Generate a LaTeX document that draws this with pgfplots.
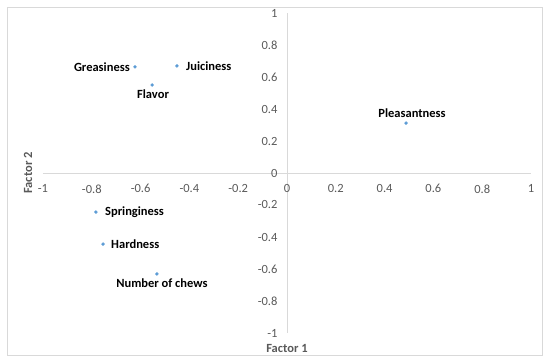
\documentclass[border=0pt]{standalone}
\usepackage{fontspec}
\setmainfont{Carlito}
\usepackage{pgfplots}
\pgfplotsset{compat=1.18}
\definecolor{axgray}{HTML}{D9D9D9}
\definecolor{txtgray}{HTML}{595959}
\definecolor{ptblue}{HTML}{5B9BD5}
\definecolor{framegray}{HTML}{D9D9D9}
\pgfplotsset{
  pt/.style n args={3}{only marks, mark=*, mark size=1.5pt, ptblue,
    point meta=explicit symbolic, nodes near coords,
    every node near coord/.append style={anchor=#1, xshift=#2, yshift=#3,
      font=\fontsize{12.5}{14}\selectfont\bfseries, text=black, inner sep=2pt}},
}
\begin{document}
\begin{tikzpicture}[x=1pt,y=1pt]
\useasboundingbox (0,0) rectangle (550,363);
\draw[framegray, line width=0.8pt] (7,8) rectangle (542,356);
\begin{axis}[
  at={(43pt,30pt)}, anchor=south west,
  scale only axis, width=488pt, height=320pt,
  xmin=-1, xmax=1, ymin=-1, ymax=1,
  axis lines=middle,
  axis line style={axgray, line width=0.8pt, -},
  xtick={-1,-0.8,-0.6,-0.4,-0.2,0,0.2,0.4,0.6,0.8,1},
  ytick={-1,-0.8,-0.6,-0.4,-0.2,0,0.2,0.4,0.6,0.8,1},
  major tick length=0pt,
  hide obscured x ticks=false, hide obscured y ticks=false,
  /pgf/number format/assume math mode=true,
  tick label style={font=\fontsize{12.5}{14}\selectfont, text=txtgray},
  xticklabel style={anchor=north, yshift=-8pt},
  yticklabel style={anchor=east, xshift=-6pt},
  xlabel={Factor 1}, ylabel={Factor 2},
  xlabel style={at={(rel axis cs:0.5,0)}, anchor=center, yshift=-15pt, font=\fontsize{12.5}{14}\selectfont\bfseries, text=txtgray},
  ylabel style={at={(rel axis cs:0,0.5)}, anchor=center, rotate=90, yshift=15pt, font=\fontsize{12.5}{14}\selectfont\bfseries, text=txtgray},
  clip=false,
]
\addplot[pt={east}{-3pt}{0pt}] coordinates {(-0.623,0.663)[Greasiness]};
\addplot[pt={west}{7pt}{0pt}] coordinates {(-0.451,0.669)[Juiciness]};
\addplot[pt={north}{1pt}{-3pt}] coordinates {(-0.553,0.550)[Flavor]};
\addplot[pt={south}{6pt}{3pt}] coordinates {(0.488,0.312)[Pleasantness]};
\addplot[pt={west}{7pt}{0pt}] coordinates {(-0.783,-0.244)[Springiness]};
\addplot[pt={west}{6pt}{0pt}] coordinates {(-0.754,-0.444)[Hardness]};
\addplot[pt={north}{5pt}{-3pt}] coordinates {(-0.533,-0.631)[Number of chews]};
\end{axis}
\end{tikzpicture}
\end{document}
